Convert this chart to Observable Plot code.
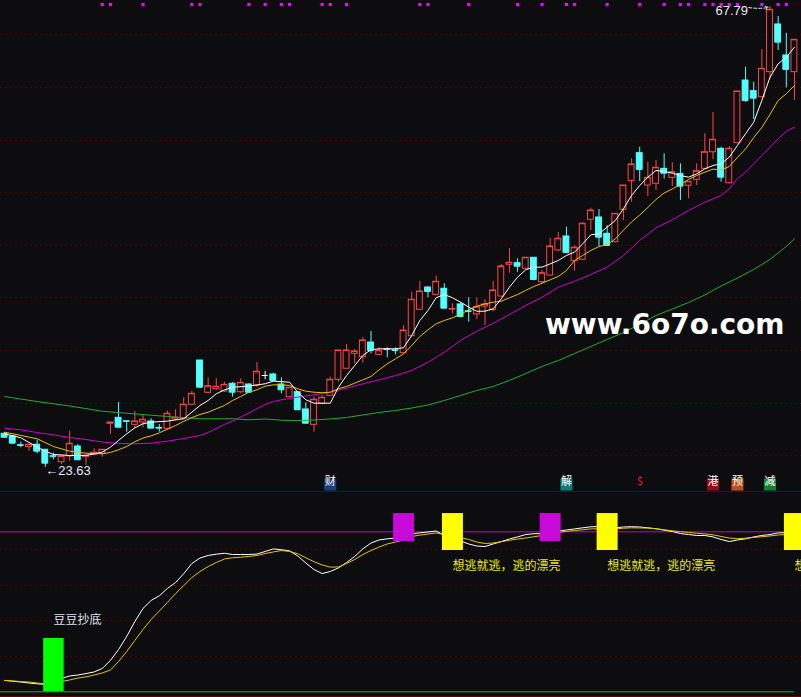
<!DOCTYPE html>
<html><head><meta charset="utf-8">
<script src="https://cdn.jsdelivr.net/npm/d3@7"></script>
<script src="https://cdn.jsdelivr.net/npm/@observablehq/plot@0.6"></script>
<style>
html,body{margin:0;padding:0;background:#0d0d10;}
#chart{position:relative;width:801px;height:697px;background:#0d0d10;overflow:hidden;}
#chart svg{display:block;}
#wm{position:absolute;left:545px;top:308px;font:bold 28px "DejaVu Sans",sans-serif;color:#ffffff;white-space:nowrap;}
</style></head>
<body><div id="chart"><div id="wm">www.6o7o.com</div></div>
<script>
// ---- candle data (index = trading day) ----
const open = [26.86,26.60,25.76,25.58,25.81,25.33,24.71,24.14,24.69,25.64, 24.62,24.85,24.94,27.82,28.39,28.06,27.72,27.94,28.04,27.42, 27.34,28.23,28.30,29.64,33.88,30.79,31.13,30.91,31.65,30.84, 31.58,31.49,32.44,32.54,31.58,30.37,30.84,29.19,27.72,29.73, 30.50,32.03,33.09,34.52,34.20,35.60,34.43,34.95,34.86,34.58, 36.21,38.74,40.87,40.17,40.75,38.79,39.25,38.59,38.29,39.05, 38.74,40.01,43.05,43.20,42.67,43.72,41.38,42.02,44.42,45.76, 43.39,43.53,47.36,47.58,46.02,45.21,48.32,51.06,53.74,50.64, 50.81,52.24,51.38,51.76,50.62,51.19,52.24,53.83,54.16,50.86, 54.70,60.70,59.68,59.10,61.50,66.07,63.10,61.50];
const high = [26.98,26.70,26.05,25.81,26.22,25.33,25.00,24.69,27.11,25.83, 24.78,25.42,25.33,27.94,29.86,28.13,29.00,28.71,28.30,27.75, 29.02,29.16,30.31,30.91,33.88,32.22,32.13,31.80,31.77,32.13, 31.65,33.69,32.83,32.66,32.22,31.30,30.84,29.83,30.37,30.53, 32.28,34.84,35.41,34.93,36.06,36.66,35.10,35.10,35.10,37.23, 40.42,41.45,40.97,41.96,41.23,39.31,39.41,39.89,39.89,39.70, 41.45,43.08,44.61,43.62,43.72,43.72,42.50,45.60,46.14,46.65, 44.87,47.10,48.47,48.35,46.81,47.93,50.64,53.20,54.31,52.88, 53.04,53.68,52.82,52.72,51.00,52.72,55.60,57.64,54.31,54.38, 59.65,61.98,60.54,63.67,67.79,66.83,65.23,64.60];
const low = [26.41,25.88,25.52,25.19,24.94,23.63,24.37,23.92,24.23,24.30, 23.82,24.78,24.62,26.79,27.43,27.01,27.34,27.43,27.34,27.01, 27.24,28.13,28.20,29.54,31.23,30.69,31.01,30.84,30.37,30.69, 30.75,31.32,32.03,31.90,30.69,30.31,29.09,27.82,27.01,29.67, 30.43,31.80,33.02,33.56,33.62,34.52,34.36,34.14,34.43,34.52, 36.11,38.67,39.89,40.11,38.86,38.35,37.97,37.55,37.81,37.23, 38.55,39.94,42.24,42.34,42.57,41.52,41.26,41.93,44.30,44.13, 42.44,43.46,46.33,44.80,44.80,45.16,47.29,49.04,51.03,49.59, 50.17,51.25,50.55,49.21,49.37,50.64,52.18,53.11,50.96,50.80, 54.64,58.62,56.97,59.04,60.77,63.58,60.00,58.79];
const close = [26.53,25.96,25.74,25.81,25.19,24.04,24.69,24.69,25.90,24.37, 24.78,25.04,25.33,27.94,27.49,28.04,28.04,28.20,27.40,27.40, 28.78,28.39,29.64,30.69,31.32,31.42,31.36,31.55,30.84,31.74, 30.84,32.80,32.44,31.97,31.07,31.27,29.16,27.87,30.12,30.31, 32.03,34.84,34.84,34.74,35.80,34.84,34.81,34.93,34.84,36.75, 39.70,40.49,40.49,41.42,38.89,38.81,38.10,38.57,38.99,39.25, 40.59,42.89,43.24,42.91,43.72,41.64,42.24,44.80,45.54,44.23, 44.68,46.98,48.25,45.69,44.90,47.93,50.64,52.66,52.18,51.38, 52.34,51.82,51.92,50.58,51.00,52.01,53.83,55.02,51.44,54.16, 59.65,58.79,59.01,61.82,67.47,64.37,61.76,64.60];

// ---- moving averages ----
const ma5Idx = [0,2,4,5,6,8,10,11,12,13,14,15,16,17,18,20,22,23,24,25,26,27,28,30,32,33,35,36,37,38,40,41,42,43,44,45,46,48,49,50,51,52,53,54,55,56,57,58,59,60,61,62,63,64,65,66,67,68,69,70,71,72,73,74,75,76,77,78,79,80,81,82,83,84,85,86,87,88,89,90,91,92,93,94,95,96,97];
const ma5 = [26.86,26.48,25.58,25.19,24.88,24.78,24.78,24.94,25.10,25.58,26.22,26.86,27.43,27.82,27.97,28.07,28.30,28.93,29.57,30.05,30.69,31.07,31.32,31.42,31.65,31.90,31.80,30.84,30.12,29.79,29.79,31.32,32.44,33.40,34.36,34.91,35.00,35.00,35.10,36.28,37.71,38.67,39.89,40.20,39.89,39.47,38.99,38.60,38.60,38.83,39.79,40.90,41.86,42.57,42.82,42.82,43.14,43.46,43.94,44.26,45.06,45.92,46.02,46.65,47.29,48.41,49.69,50.64,51.44,52.08,51.99,51.82,51.60,51.44,51.76,52.24,52.56,52.72,53.36,54.48,55.60,56.71,58.79,61.02,62.30,62.93,63.89];
const ma10Idx = [0,2,4,6,8,10,12,13,14,15,16,17,18,19,20,21,22,23,24,25,26,27,28,29,30,31,32,33,34,35,36,37,38,39,40,41,42,43,44,45,46,47,48,49,50,51,52,53,54,55,56,57,58,59,60,61,62,63,64,65,66,67,68,69,70,71,72,73,74,75,76,77,78,79,80,81,82,83,84,85,86,87,88,89,90,91,92,93,94,95,96,97];
const ma10 = [27.01,26.70,26.38,25.64,25.19,25.00,24.94,25.07,25.33,25.64,26.10,26.45,26.66,26.95,27.30,27.65,28.05,28.41,28.71,28.93,29.25,29.57,30.05,30.43,30.84,31.07,31.42,31.55,31.55,31.49,31.17,30.94,30.84,30.79,30.84,31.17,31.39,31.71,32.03,32.35,32.99,33.56,34.04,34.52,35.32,36.18,36.82,37.40,37.71,37.97,38.29,38.74,39.08,39.31,39.47,39.56,39.89,40.20,40.59,40.97,41.29,41.61,41.93,42.50,43.46,43.94,44.42,44.80,44.99,45.52,46.36,47.15,47.81,48.54,49.30,49.93,50.31,50.74,51.22,51.60,51.92,52.21,52.14,52.46,53.33,54.14,55.24,56.20,57.45,58.79,59.43,60.22];
const ma20Idx = [0,2,4,6,8,10,12,14,16,18,20,22,24,25,26,27,28,29,30,31,32,33,34,36,38,40,42,44,46,48,50,52,54,56,58,60,62,64,66,68,70,72,74,76,78,80,82,84,86,88,89,90,91,92,93,94,95,96,97];
const ma20 = [27.40,27.24,26.98,26.76,26.51,26.31,26.07,25.93,25.90,25.96,26.15,26.41,26.70,26.98,27.37,27.75,28.09,28.47,28.85,29.28,29.67,29.95,30.12,30.37,30.60,30.84,31.23,31.65,32.03,32.44,32.92,33.72,34.68,35.80,36.69,37.45,38.29,39.15,39.94,40.90,41.48,42.12,42.82,43.94,45.38,46.59,47.36,48.25,49.04,49.69,50.33,51.29,51.92,52.72,53.52,54.31,55.12,55.82,56.23];
const ma60Idx = [0,4,8,12,16,20,24,28,30,32,34,36,38,40,42,44,46,48,50,52,54,56,58,60,62,64,66,68,70,72,74,76,78,80,82,84,86,88,90,92,94,96,97];
const ma60 = [30.43,29.95,29.52,29.02,28.76,28.52,28.30,28.30,28.20,28.28,28.16,28.13,28.18,28.28,28.42,28.66,28.90,29.09,29.33,29.62,30.05,30.53,31.01,31.39,31.97,32.63,33.31,33.88,34.55,35.22,35.89,36.56,37.33,38.19,38.81,39.44,40.16,41.02,41.78,42.60,43.56,44.80,45.54];

// grid levels of the price panel
const gridPrices = [65.11,60.03,54.95,49.97,44.90,39.92,34.84,29.76,24.78];
// magenta signal squares at the top
const sigIdx = [12,13,17,23,24,30,32,34,35,39,40,42,51,52,57,63,66,69,70,74,78,81,83,84,86,87,88,89,90,93,95,96];
// event tags above the indicator panel
const eventIdx = [40,69,78,87,90,94];
const eventText = ["财","解","$","港","预","减"];

// ---- indicator panel ----
const indWhite = [7.1,6.6,6.1,5.5,5.0,4.6,4.6,8.3,9.9,10.5, 11.4,12.4,14.6,19.6,26.4,34.6,43.9,52.1,57.1,60.0, 64.6,68.3,73.8,80.2,83.6,85.2,86.0,86.6,85.8,85.8, 85.8,86.1,87.7,89.3,88.8,88.1,84.9,80.5,76.4,73.9, 75.2,77.4,80.8,84.6,89.3,93.0,94.9,95.6,96.1,96.4, 98.8,99.3,99.9,100.5,97.7,95.8,94.3,92.4,91.1,90.8, 92.4,93.9,95.5,96.8,98.3,98.8,98.9,99.6,100.5,101.1, 101.8,102.5,103.1,103.3,102.7,102.5,103.0,103.2,103.0,102.5, 101.9,101.0,100.2,98.9,98.3,97.7,97.7,96.8,95.2,93.9, 94.9,95.6,96.8,97.7,98.3,99.3,99.4,99.6];
const indYellow = [7.1,6.8,6.4,6.1,5.5,5.0,5.2,6.4,7.4,8.6, 9.3,10.5,11.8,13.6,18.9,25.2,32.1,38.9,45.2,50.5, 55.8,61.4,66.4,71.4,75.2,78.3,80.8,83.0,83.8,84.1, 84.6,85.2,86.4,87.4,88.3,87.7,86.3,83.8,81.3,79.3, 77.9,78.0,80.2,82.7,85.8,88.3,90.5,92.4,93.6,94.9, 97.1,97.9,98.6,99.3,98.3,97.4,96.4,95.2,93.6,92.7, 93.0,93.8,94.7,95.5,96.1,96.9,97.7,98.6,99.6,100.3, 100.8,101.3,101.8,101.9,101.9,101.9,102.2,102.5,102.4,102.3, 101.9,101.3,100.6,100.1,99.6,99.1,98.7,98.1,97.1,96.1, 95.7,96.0,96.5,96.9,97.4,98.0,98.3,98.6];
const indGrid = [22.1,44.4,66.6,88.9];
const indLevel = 100;
const magentaBarIdx = [49,67];
const magentaBar = [93.9,111.4];
const yellowBarIdx = [55,74,97];
const yellowBar = [88.3,111.4];
const greenBarIdx = [6];
const greenBar = [0,33.3];
const buyText = "豆豆抄底";
const sellText = "想逃就逃，逃的漂亮";

// ---- build ----
const BG = "#0d0d10", RED = "#ff4646", CYAN = "#54ffff";
const GRID = "#5a0404";
const n = open.length;
const xDomain = [-0.5, n - 0.5];
const xRange = [0, 798];
const candles = open.map((o, i) => ({i, o, h: high[i], l: low[i], c: close[i]}));
const col = d => d.c > d.o ? RED : d.c < d.o ? CYAN : "#ffffff";
const series = (idx, vals) => idx.map((i, k) => ({i, v: vals[k]}));
const hiI = d3.maxIndex(high), loI = d3.minIndex(low);
const hiPt = {i: hiI, v: high[hiI]}, loPt = {i: loI, v: low[loI]};
const events = eventIdx.map((i, k) => ({i, t: eventText[k]}));
const evBg = {"财":"#1d3d78","解":"#0f7a7a","$":"none","港":"#8c1010","预":"#b8521c","减":"#14802e"};
const NUMFONT = "'Liberation Sans', Arial, sans-serif";
const CJK = "'Noto Sans CJK SC', sans-serif";
const hw = 0.36;

const topPlot = Plot.plot({
  width: 801, height: 491, margin: 0,
  style: {background: BG},
  x: {domain: xDomain, range: xRange, axis: null},
  y: {domain: [d3.min(low), d3.max(high)], range: [467, 6], axis: null},
  marks: [
    Plot.ruleY(gridPrices, {stroke: GRID, strokeDasharray: "2,3"}),
    Plot.ruleX(candles, {x: "i", y1: "l", y2: "h", stroke: col}),
    Plot.rect(candles, {x1: d => d.i - hw, x2: d => d.i + hw, y1: "o", y2: "c",
      fill: d => d.c > d.o ? BG : col(d), stroke: col}),
    Plot.ruleY(candles, {x1: d => d.i - hw, x2: d => d.i + hw, y: "c", stroke: col}),
    Plot.line(series(ma60Idx, ma60), {x: "i", y: "v", stroke: "#1fae2a", strokeWidth: 1}),
    Plot.line(series(ma20Idx, ma20), {x: "i", y: "v", stroke: "#d200d2", strokeWidth: 1}),
    Plot.line(series(ma10Idx, ma10), {x: "i", y: "v", stroke: "#e6c400", strokeWidth: 1}),
    Plot.line(series(ma5Idx, ma5), {x: "i", y: "v", stroke: "#ffffff", strokeWidth: 1}),
    Plot.dot(sigIdx, {x: d => d, frameAnchor: "top", dy: 4, symbol: "square", r: 1.8, fill: "#ff00ff"}),
    Plot.dot(events, {x: "i", frameAnchor: "bottom", dy: -7, symbol: "square", r: 6.8,
      fill: d => evBg[d.t]}),
    Plot.text(events, {x: "i", frameAnchor: "bottom", dy: -7, text: "t",
      fill: d => d.t === "$" ? "#ff2020" : "#ffffff", fontSize: 11, fontFamily: CJK, fontWeight: d => d.t === "$" ? "bold" : "normal"}),
    Plot.text([hiPt], {x: "i", y: "v", text: d => d.v.toFixed(2), textAnchor: "end", dx: -22, dy: 4,
      fill: "#e4eaf2", fontSize: 13, fontFamily: NUMFONT}),
    Plot.arrow([hiPt], {x1: d => d.i - 2.6, y1: "v", x2: d => d.i - 0.2, y2: "v", dy: 1,
      stroke: "#e4eaf2", strokeWidth: 1, strokeDasharray: "3,2", headLength: 5, bend: -10}),
    Plot.text([loPt], {x: "i", y: "v", text: d => "←" + d.v.toFixed(2), textAnchor: "start", dy: 3,
      fill: "#e4eaf2", fontSize: 13, fontFamily: NUMFONT})
  ]
});

const botPlot = Plot.plot({
  width: 801, height: 204, margin: 0,
  style: {background: BG},
  x: {domain: xDomain, range: xRange, axis: null},
  y: {domain: [0, 100], range: [199.3, 39.3], axis: null},
  marks: [
    Plot.ruleY(indGrid, {stroke: GRID, strokeDasharray: "2,3"}),
    Plot.ruleY([indLevel], {x1: -0.5, x2: n - 1, stroke: "#c800c8"}),
    Plot.ruleY([0], {x1: -0.5, x2: n - 1, stroke: "#22a83a"}),
    Plot.line(indWhite.map((v, i) => ({i, v})), {x: "i", y: "v", stroke: "#ffffff", strokeWidth: 1}),
    Plot.line(indYellow.map((v, i) => ({i, v})), {x: "i", y: "v", stroke: "#e6c400", strokeWidth: 1}),
    Plot.ruleX(greenBarIdx, {x: d => d, y1: greenBar[0], y2: greenBar[1], stroke: "#00ff00", strokeWidth: 20.5}),
    Plot.ruleX(magentaBarIdx, {x: d => d, y1: magentaBar[0], y2: magentaBar[1], stroke: "#c80ad8", strokeWidth: 21}),
    Plot.ruleX(yellowBarIdx, {x: d => d, y1: yellowBar[0], y2: yellowBar[1], stroke: "#ffff00", strokeWidth: 21}),
    Plot.text(yellowBarIdx, {x: d => d, y: yellowBar[0], text: () => sellText, textAnchor: "start", dy: 16,
      fill: "#eaea10", fontSize: 12, fontFamily: CJK}),
    Plot.text(greenBarIdx, {x: d => d, y: greenBar[1], text: () => buyText, textAnchor: "start", dy: -18.5,
      fill: "#dde4ee", fontSize: 12, fontFamily: CJK})
  ]
});
botPlot.style.borderTop = "1px solid #600000";
botPlot.style.borderBottom = "1px solid #600000";

const chart = document.getElementById("chart");
chart.insertBefore(botPlot, chart.firstChild);
chart.insertBefore(topPlot, botPlot);
</script>
</body></html>
